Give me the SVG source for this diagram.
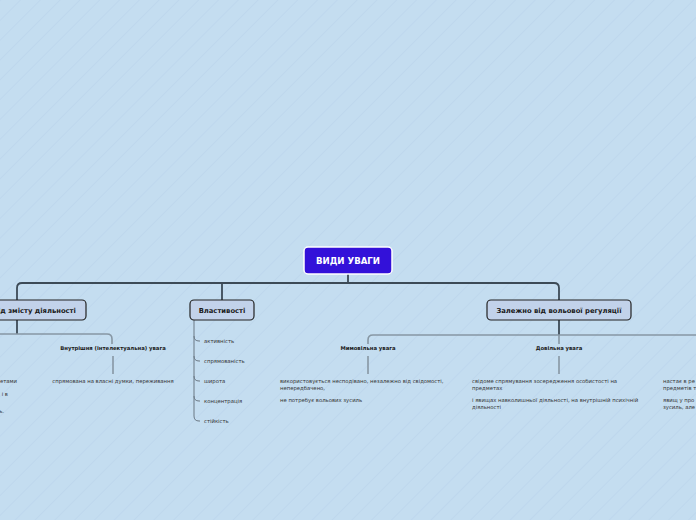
<svg xmlns="http://www.w3.org/2000/svg" width="696" height="520" viewBox="0 0 696 520">
<defs>
<pattern id="hatch" width="14" height="14" patternUnits="userSpaceOnUse" patternTransform="rotate(45)">
<rect width="14" height="14" fill="#c4ddf0"/>
<line x1="0" y1="0" x2="0" y2="14" stroke="#bcd6ec" stroke-width="1.5"/>
</pattern>
<style>
text{font-family:"DejaVu Sans","Noto Sans",sans-serif;fill:#1a1a1a}
.root rect{fill:#3311d9;stroke:#ffffff;stroke-width:1.5}
.root text{fill:#ffffff;font-weight:bold;font-size:8.6px}
.main rect{fill:#c2d2ea;stroke:#222;stroke-width:1.2}
.main text{font-weight:bold;font-size:6.8px}
.sub text{font-weight:bold;font-size:5.3px}
.leaf text{font-size:5.3px;fill:#333}
.c1{fill:none;stroke:#3c4a56;stroke-width:1.8}
.c2{fill:none;stroke:#8797a4;stroke-width:1.6}
.c3{fill:none;stroke:#6b7884;stroke-width:1}
</style>
</defs>
<rect width="696" height="520" fill="url(#hatch)"/>
<g id="connectors">
<path class="c1" d="M348 274V283"/>
<path class="c1" d="M17 300V288Q17 283 22 283H554Q559 283 559 288V300"/>
<path class="c1" d="M222 283V300"/>
<path class="c1" d="M17 320V334"/>
<path class="c2" d="M0 334H107Q112 334 112 339V344"/>
<path class="c2" d="M113 356V374"/>
<path class="c3" d="M194 320V416Q194 421 199 421H200"/>
<path class="c3" d="M194 336Q194 341 199 341H200M194 356Q194 361 199 361H200M194 376Q194 381 199 381H200M194 396Q194 401 199 401H200"/>
<path class="c1" d="M559 320V335"/>
<path class="c2" d="M696 335H373Q368 335 368 340V344"/>
<path class="c2" d="M559 335V344"/>
<path class="c2" d="M368 356V374M559 356V374"/>
</g>
<g id="root" class="root">
<rect x="304" y="247" width="88" height="27" rx="4"/>
<text x="348" y="263.5" text-anchor="middle">ВИДИ УВАГИ</text>
</g>
<g id="n-content" class="main">
<rect x="-54" y="300" width="140" height="20" rx="4"/>
<text x="16" y="312.5" text-anchor="middle">Залежно від змісту діяльності</text>
</g>
<g id="n-props" class="main">
<rect x="190" y="300" width="64" height="20" rx="4"/>
<text x="222" y="312.5" text-anchor="middle">Властивості</text>
</g>
<g id="n-will" class="main">
<rect x="487" y="300" width="144" height="20" rx="4"/>
<text x="559" y="312.5" text-anchor="middle">Залежно від вольової регуляції</text>
</g>
<g id="n-outer-text" class="leaf">
<text x="17" y="383" text-anchor="end">етами</text>
<text x="8" y="396" text-anchor="end">і в</text>
<text x="4" y="413" text-anchor="end">ь.</text>
</g>
<g id="n-inner" class="sub">
<text x="113" y="350" text-anchor="middle">Внутрішня (інтелектуальна) увага</text>
</g>
<g id="n-inner-text" class="leaf">
<text x="113" y="383" text-anchor="middle">спрямована на власні думки, переживання</text>
</g>
<g id="n-props-items" class="leaf">
<text x="204" y="343">активність</text>
<text x="204" y="363">спрямованість</text>
<text x="204" y="383">широта</text>
<text x="204" y="403">концентрація</text>
<text x="204" y="423">стійкість</text>
</g>
<g id="n-invol" class="sub">
<text x="368" y="350" text-anchor="middle">Мимовільна увага</text>
</g>
<g id="n-invol-text" class="leaf">
<text x="280" y="383">використовується несподівано, незалежно від свідомості,</text>
<text x="280" y="389.5">непередбачено,</text>
<text x="280" y="402">не потребує вольових зусиль</text>
</g>
<g id="n-vol" class="sub">
<text x="559" y="350" text-anchor="middle">Довільна увага</text>
</g>
<g id="n-vol-text" class="leaf">
<text x="472" y="383">свідоме спрямування зосередження особистості на</text>
<text x="472" y="389.5">предметах</text>
<text x="472" y="402">і явищах навколишньої діяльності, на внутрішній психічній</text>
<text x="472" y="408.5">діяльності</text>
</g>
<g id="n-post-text" class="leaf">
<text x="663" y="383">настає в ре</text>
<text x="663" y="389.5">предметів т</text>
<text x="663" y="402">явищ у про</text>
<text x="663" y="408.5">зусиль, але</text>
</g>
</svg>
